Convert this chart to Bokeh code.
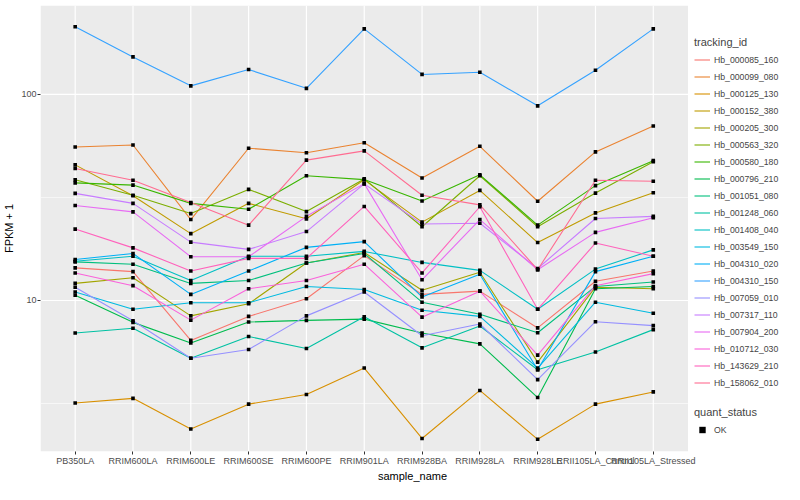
import math
from bokeh.plotting import figure
from bokeh.models import Range1d, FixedTicker, Legend, LegendItem
from bokeh.embed import file_html
from bokeh.resources import INLINE

samples = ["PB350LA", "RRIM600LA", "RRIM600LE", "RRIM600SE", "RRIM600PE", "RRIM901LA",
           "RRIM928BA", "RRIM928LA", "RRIM928LE", "RRII105LA_Control", "RRII105LA_Stressed"]

tracking_ids = ["Hb_000085_160", "Hb_000099_080", "Hb_000125_130", "Hb_000152_380",
                "Hb_000205_300", "Hb_000563_320", "Hb_000580_180", "Hb_000796_210",
                "Hb_001051_080", "Hb_001248_060", "Hb_001408_040", "Hb_003549_150",
                "Hb_004310_020", "Hb_004310_150", "Hb_007059_010", "Hb_007317_110",
                "Hb_007904_200", "Hb_010712_030", "Hb_143629_210", "Hb_158062_010"]

hb_000085_160 = [14.4, 13.8, 6.40, 8.37, 10.2, 16.5, 10.7, 11.1, 7.36, 12.4, 13.9]
hb_000099_080 = [55.6, 56.8, 24.7, 54.8, 52.1, 58.3, 39.3, 56.0, 30.3, 52.6, 70.2]
hb_000125_130 = [3.18, 3.35, 2.38, 3.14, 3.50, 4.70, 2.14, 3.66, 2.12, 3.14, 3.60]
hb_000152_380 = [45.5, 32.2, 21.1, 29.6, 24.9, 38.5, 24.0, 34.2, 19.1, 26.6, 33.3]
hb_000205_300 = [12.1, 12.9, 8.42, 9.64, 15.2, 17.1, 11.2, 13.7, 5.02, 11.6, 11.4]
hb_000563_320 = [38.5, 32.4, 26.4, 34.6, 27.0, 38.9, 22.8, 40.3, 22.8, 33.2, 47.1]
hb_000580_180 = [37.2, 36.3, 29.6, 27.7, 40.3, 38.6, 30.4, 40.7, 23.2, 36.1, 47.7]
hb_000796_210 = [10.6, 7.83, 6.22, 7.86, 8.01, 8.12, 6.95, 6.16, 3.38, 11.4, 11.7]
hb_001051_080 = [15.4, 15.0, 12.1, 12.5, 15.2, 16.9, 9.81, 8.58, 6.97, 11.7, 12.3]
hb_001248_060 = [6.95, 7.33, 5.24, 6.69, 5.85, 8.33, 5.89, 7.52, 4.61, 5.62, 7.22]
hb_001408_040 = [15.5, 16.4, 12.5, 16.4, 16.4, 17.3, 15.3, 14.0, 9.06, 14.2, 17.6]
hb_003549_150 = [11.0, 9.06, 9.75, 9.75, 11.7, 11.3, 8.96, 8.37, 4.70, 9.81, 8.67]
hb_004310_020 = [15.8, 16.9, 10.7, 13.9, 18.1, 19.3, 10.4, 13.4, 4.61, 13.8, 16.4]
hb_004310_150 = [213, 152, 110, 132, 107, 208, 125, 128, 88, 131, 208]
hb_007059_010 = [11.6, 7.97, 5.24, 5.78, 8.42, 11.0, 6.74, 7.69, 4.13, 7.89, 7.55]
hb_007317_110 = [33.1, 29.6, 19.2, 17.7, 21.6, 36.8, 23.5, 23.7, 14.3, 25.0, 25.6]
hb_007904_200 = [28.9, 26.9, 16.3, 16.3, 25.6, 36.9, 12.6, 24.7, 14.1, 21.4, 25.2]
hb_010712_030 = [13.6, 11.8, 8.03, 11.4, 12.5, 15.0, 8.30, 11.1, 5.43, 11.8, 13.5]
hb_143629_210 = [22.2, 18.0, 13.9, 16.0, 16.0, 28.6, 13.6, 28.5, 9.06, 19.0, 16.4]
hb_158062_010 = [43.7, 38.3, 29.9, 23.2, 48.0, 53.2, 32.4, 29.1, 14.1, 38.3, 37.9]

series = [hb_000085_160, hb_000099_080, hb_000125_130, hb_000152_380, hb_000205_300,
          hb_000563_320, hb_000580_180, hb_000796_210, hb_001051_080, hb_001248_060,
          hb_001408_040, hb_003549_150, hb_004310_020, hb_004310_150, hb_007059_010,
          hb_007317_110, hb_007904_200, hb_010712_030, hb_143629_210, hb_158062_010]

colors = ["#F8766D", "#EA8331", "#D89000", "#C09B00", "#A3A500", "#7CAE00", "#39B600",
          "#00BB4E", "#00BF7D", "#00C1A3", "#00BFC4", "#00BAE0", "#00B0F6", "#35A2FF",
          "#9590FF", "#C77CFF", "#E76BF3", "#FA62DB", "#FF62BC", "#FF6C91"]

quant_status = ["OK"]

y_major = [10, 100]
y_minor = [10 ** 0.5, 10 ** 1.5]

FONT = "Liberation Sans"
xs = list(range(len(samples)))

# layout constants (ggplot-like expansion of the discrete axis)
X_EXP = 0.6
Y_LO, Y_HI = 1.85, 270.0
x_panel = (xs[0] - X_EXP, xs[-1] + X_EXP)

p = figure(width=784, height=484, y_axis_type="log",
           x_range=Range1d(x_panel[0], 12.27), y_range=Range1d(Y_LO, Y_HI),
           output_backend="svg", toolbar_location=None,
           min_border_left=40, min_border_right=0, min_border_top=5, min_border_bottom=0)

p.background_fill_color = "white"
p.border_fill_color = "white"
p.outline_line_color = None
p.xgrid.visible = False
p.ygrid.visible = False

# grey panel + white grid restricted to the panel
p.quad(left=[x_panel[0]], right=[x_panel[1]], bottom=[Y_LO], top=[Y_HI],
       fill_color="#EBEBEB", line_color=None)
p.segment(x0=[x_panel[0]] * len(y_minor), x1=[x_panel[1]] * len(y_minor), y0=y_minor, y1=y_minor,
          line_color="white", line_width=0.6)
p.segment(x0=[x_panel[0]] * len(y_major), x1=[x_panel[1]] * len(y_major), y0=y_major, y1=y_major,
          line_color="white", line_width=1.2)
p.segment(x0=xs, x1=xs, y0=[Y_LO] * len(xs), y1=[Y_HI] * len(xs),
          line_color="white", line_width=1.2)

# axes
p.xaxis.ticker = FixedTicker(ticks=xs)
p.xaxis.major_label_overrides = {i: s for i, s in enumerate(samples)}
p.yaxis.ticker = FixedTicker(ticks=y_major)
p.yaxis.major_label_overrides = {10: "10", 100: "100"}
for ax in (p.xaxis, p.yaxis):
    ax.axis_line_color = None
    ax.major_tick_line_color = "#333333"
    ax.major_tick_in = 0
    ax.major_tick_out = 3
    ax.minor_tick_line_color = None
    ax.major_label_text_color = "#4D4D4D"
    ax.major_label_text_font = FONT
    ax.major_label_text_font_size = "9px"
    ax.major_label_standoff = 1
    ax.axis_label_text_font = FONT
    ax.axis_label_text_font_size = "11px"
    ax.axis_label_text_font_style = "normal"
    ax.axis_label_text_color = "black"
    ax.axis_label_standoff = 1
p.xaxis.axis_label = "sample_name"
p.yaxis.axis_label = "FPKM + 1"
p.yaxis.axis_label_standoff = 3

# key background (ggplot-style grey key boxes) for the legends
key_bg = p.quad(left=[], right=[], top=[], bottom=[], fill_color="#F2F2F2", line_color=None)

line_renderers = []
for vals, col in zip(series, colors):
    r = p.line(xs, vals, line_color=col, line_width=1.1)
    line_renderers.append(r)

point_renderers = []
for vals in series:
    r = p.scatter(xs, vals, marker="square", size=3.6, fill_color="black", line_color=None)
    point_renderers.append(r)

common = dict(orientation="vertical", padding=0, margin=0, spacing=0,
              glyph_width=16, glyph_height=17, label_height=17, label_standoff=4,
              label_text_font=FONT, label_text_font_size="8.7px",
              title_text_font=FONT, title_text_font_size="11px", title_text_font_style="normal",
              title_standoff=3, border_line_color=None, background_fill_alpha=0)

items = [LegendItem(label=tid, renderers=[key_bg, r]) for tid, r in zip(tracking_ids, line_renderers)]
leg1 = Legend(items=items, title="tracking_id", location=(654, 60), **common)
p.add_layout(leg1, "center")

items2 = [LegendItem(label=q, renderers=[key_bg, point_renderers[0]]) for q in quant_status]
leg2 = Legend(items=items2, title="quant_status", location=(654, 13), **common)
p.add_layout(leg2, "center")

open("out.html", "w").write(file_html(p, INLINE))
